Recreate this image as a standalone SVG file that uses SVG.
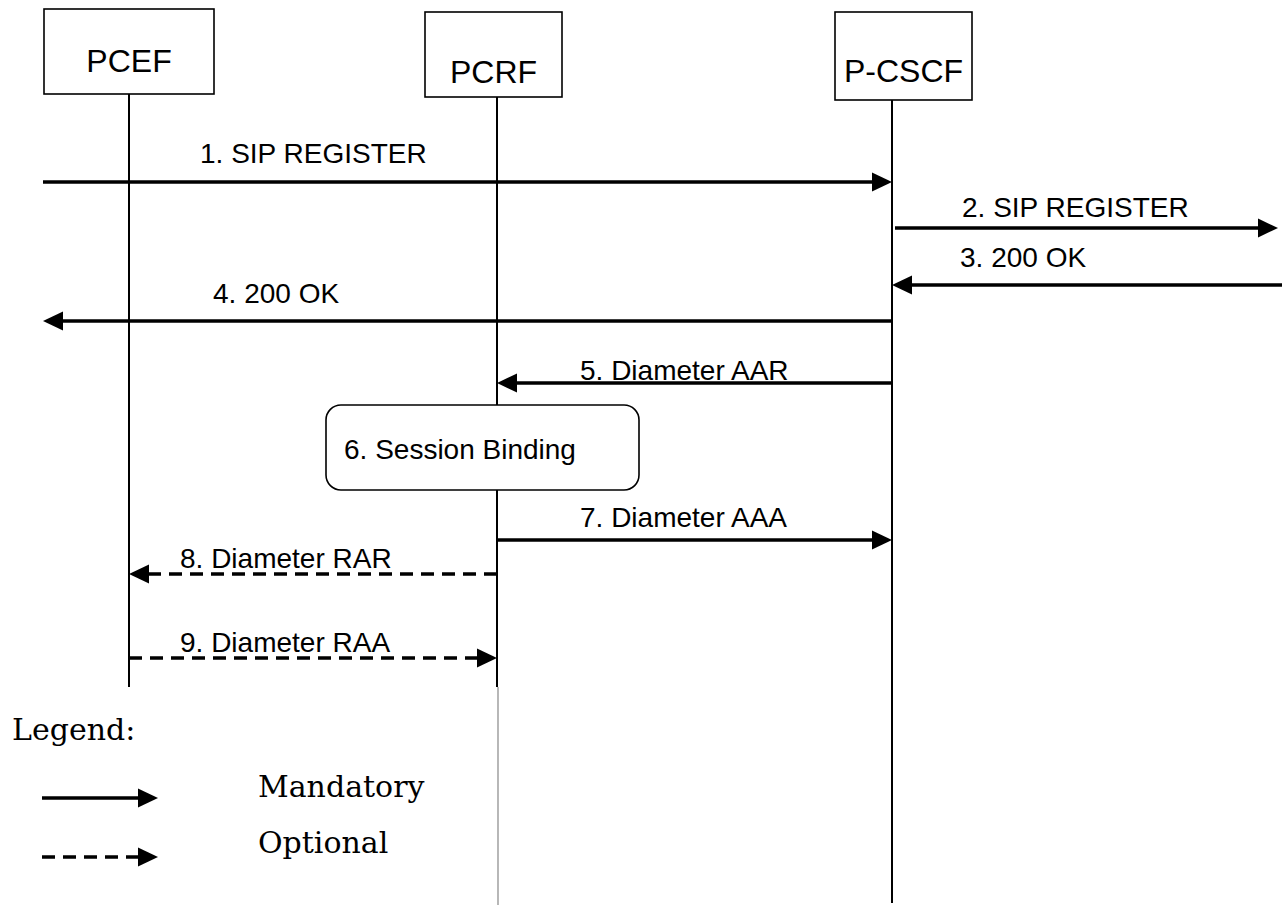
<svg xmlns="http://www.w3.org/2000/svg" width="1282" height="905" viewBox="0 0 1282 905">
<style>
.box{fill:#fff;stroke:#000;stroke-width:1.6}
.life{stroke:#000;stroke-width:2;fill:none}
.thin{stroke:#888;stroke-width:1.2;fill:none}
.msg{stroke:#000;stroke-width:3.5;fill:none}
.dash{stroke-dasharray:13 8}
.ttl{font-family:"Liberation Sans",Arial,sans-serif;font-size:32px;fill:#000;text-anchor:middle}
.lbl{font-family:"Liberation Sans",Arial,sans-serif;font-size:28px;fill:#000}
.leg{font-family:"DejaVu Serif","Liberation Serif",serif;font-size:30px;fill:#000}
</style>
<defs>
<marker id="ah" markerUnits="userSpaceOnUse" markerWidth="20" markerHeight="20" refX="0" refY="9.5" orient="auto" viewBox="0 0 20 19">
<path d="M0,0 L20,9.5 L0,19 z" fill="#000"/>
</marker>
</defs>
<g id="lifelines">
<line class="life" x1="129" y1="94" x2="129" y2="687"/>
<line class="life" x1="497" y1="97" x2="497" y2="687"/>
<line class="thin" x1="498" y1="687" x2="498" y2="905"/>
<line class="life" x1="892" y1="100" x2="892" y2="903"/>
</g>
<g id="PCEF"><rect class="box" x="44" y="9" width="170" height="85"/><text class="ttl" x="129" y="72">PCEF</text></g>
<g id="PCRF"><rect class="box" x="425" y="12" width="137" height="85"/><text class="ttl" x="493.5" y="83">PCRF</text></g>
<g id="P-CSCF"><rect class="box" x="835" y="12" width="137" height="88"/><text class="ttl" x="903.5" y="82">P-CSCF</text></g>
<g id="session-binding"><rect class="box" x="326" y="405" width="313" height="85" rx="15" ry="15"/><text class="lbl" x="344" y="459">6. Session Binding</text></g>
<g id="connectors">
<line class="msg" x1="43" y1="182" x2="872" y2="182" marker-end="url(#ah)"/>
<line class="msg" x1="895" y1="228" x2="1258" y2="228" marker-end="url(#ah)"/>
<line class="msg" x1="1282" y1="285" x2="912" y2="285" marker-end="url(#ah)"/>
<line class="msg" x1="892" y1="321" x2="63" y2="321" marker-end="url(#ah)"/>
<line class="msg" x1="892" y1="383" x2="517" y2="383" marker-end="url(#ah)"/>
<line class="msg" x1="497" y1="540" x2="872" y2="540" marker-end="url(#ah)"/>
<line class="msg dash" x1="497" y1="574" x2="149" y2="574" marker-end="url(#ah)"/>
<line class="msg dash" x1="129" y1="658" x2="477" y2="658" marker-end="url(#ah)"/>
</g>
<g id="labels">
<text class="lbl" x="200" y="163">1. SIP REGISTER</text>
<text class="lbl" x="962" y="217">2. SIP REGISTER</text>
<text class="lbl" x="960" y="267">3. 200 OK</text>
<text class="lbl" x="213" y="303">4. 200 OK</text>
<text class="lbl" x="580" y="380">5. Diameter AAR</text>
<text class="lbl" x="580" y="527">7. Diameter AAA</text>
<text class="lbl" x="180" y="568">8. Diameter RAR</text>
<text class="lbl" x="180" y="652">9. Diameter RAA</text>
</g>
<g id="legend">
<text class="leg" x="12" y="740">Legend:</text>
<line class="msg" x1="42" y1="798" x2="138" y2="798" marker-end="url(#ah)"/>
<text class="leg" x="258" y="797">Mandatory</text>
<line class="msg dash" x1="42" y1="857" x2="138" y2="857" marker-end="url(#ah)"/>
<text class="leg" x="258" y="853">Optional</text>
</g>
</svg>
